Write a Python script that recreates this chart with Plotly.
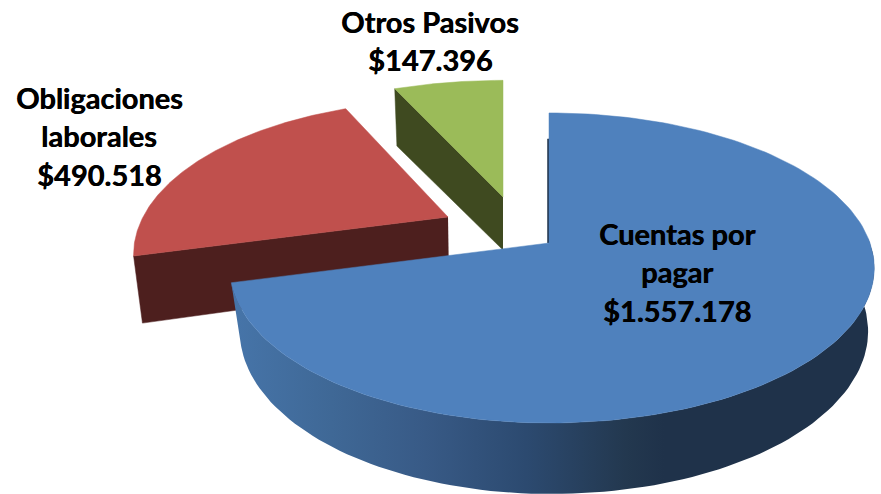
import numpy as np
import plotly.graph_objects as go

# ---- data ----
categories = ["Cuentas por pagar", "Obligaciones laborales", "Otros Pasivos"]
values = [1557178, 490518, 147396]
label_lines = [["Cuentas por", "pagar"], ["Obligaciones", "laborales"], ["Otros Pasivos"]]

# ---- style / projection of each exploded wedge (pixel-aligned axes) ----
W, H = 881, 494
FACE = ["#4F81BD", "#C0504D", "#9BBB59"]
WALL = ["#1F324A", "#4D1F1E", "#3F4A20"]
GEOM = [
    dict(ax=(549, 243), a_l=315, a_r=321, k=151, p=0.161, bx=(551, 305), sx=0.975, sy=1.05),
    dict(ax=(448, 217), a_l=305, a_r=305, k=145, p=0.243, bx=(449, 281), sx=0.975, sy=1.08),
    dict(ax=(503, 197), a_l=323, a_r=323, k=145, p=0.243, bx=(503, 250), sx=0.98, sy=0.96),
]
BLUE_WALL = [[0, "#4674A8"], [0.15, "#3F6896"], [0.3, "#385A86"], [0.46, "#2C4A70"],
             [0.62, "#23384F"], [0.68, "#1F324A"], [1, "#1F324A"]]
LABEL_POS = [(677, 233), (99, 97), (430, 21)]
LINE_H = 38.5
FONT = dict(family="Lato", size=29, color="black", shadow="0.5px 0 0 black")

total = sum(values)
fracs = np.array(values) / total
edges = np.concatenate([[0], np.cumsum(fracs)]) * 2 * np.pi


def rim(g, th, bottom=False):
    u, v = np.sin(th), -np.cos(th)
    d = 1 - g["p"] * v
    a = np.where(u < 0, g["a_l"], g["a_r"])
    x, y = a * u / d, g["k"] * v / d
    if bottom:
        return g["bx"][0] + g["sx"] * x, g["bx"][1] + g["sy"] * y
    return g["ax"][0] + x, g["ax"][1] + y


def poly(fig, x, y, color, **kw):
    fig.add_trace(go.Scatter(x=list(x), y=list(y), mode="lines", fill="toself",
                             fillcolor=color, line=dict(color=color, width=0.5),
                             hoverinfo="skip", showlegend=False, **kw))


fig = go.Figure()
for i in [2, 1, 0]:
    g = GEOM[i]
    t0, t1 = edges[i], edges[i + 1]
    th = np.linspace(t0, t1, 160)
    x, y = rim(g, th)
    xb, yb = rim(g, th, True)
    # radial walls
    if i == 0:
        ex0, ey0 = rim(g, np.array([t0]))
        poly(fig, [g["ax"][0], ex0[0], ex0[0] - 1.5, g["ax"][0] - 1.5],
             [g["ax"][1], ey0[0] + 26, ey0[0] + 26, g["ax"][1]], WALL[0])
    else:
        ex1, ey1 = rim(g, np.array([t0]))
        bx1, by1 = rim(g, np.array([t0]), True)
        poly(fig, [g["ax"][0], ex1[0], bx1[0], g["bx"][0]],
             [g["ax"][1], ey1[0], by1[0], g["bx"][1]], WALL[i])
    # outer wall of the big wedge
    if i == 0:
        m = np.cos(th) < 0.05
        xo = np.concatenate([x[m], xb[m][::-1]])
        yo = np.concatenate([y[m], yb[m][::-1]])
        fig.add_trace(go.Scatter(x=xo, y=yo, mode="lines", fill="toself",
                                 line=dict(width=0, color="#2C4A70"),
                                 fillgradient=dict(type="horizontal", colorscale=BLUE_WALL,
                                                   start=237, stop=865),
                                 hoverinfo="skip", showlegend=False))
    # top face
    poly(fig, np.concatenate([[g["ax"][0]], x, [g["ax"][0]]]),
         np.concatenate([[g["ax"][1]], y, [g["ax"][1]]]), FACE[i])

annots = []
for i, lines in enumerate(label_lines):
    txt = lines + ["$" + f"{values[i]:,}".replace(",", ".")]
    for j, t in enumerate(txt):
        annots.append(dict(x=LABEL_POS[i][0], y=LABEL_POS[i][1] + j * LINE_H, text=f"<b>{t}</b>",
                           showarrow=False, xanchor="center", yanchor="middle", font=FONT))

fig.update_layout(width=W, height=H, margin=dict(l=0, r=0, t=0, b=0), paper_bgcolor="white",
                  plot_bgcolor="white", annotations=annots, showlegend=False,
                  xaxis=dict(range=[0, W], visible=False, fixedrange=True),
                  yaxis=dict(range=[H, 0], visible=False, fixedrange=True))
fig.write_html("out.html", config=dict(displayModeBar=False),
               post_script="document.body.style.margin='0';document.documentElement.style.overflow='hidden';")
